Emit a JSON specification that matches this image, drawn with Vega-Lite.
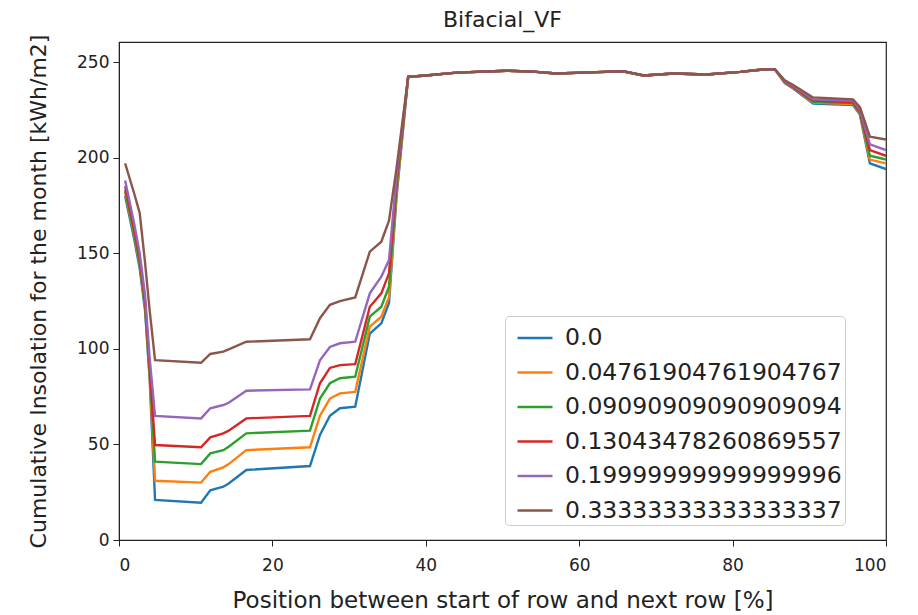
{
  "$schema": "https://vega.github.io/schema/vega-lite/v6.json",
  "width": 767,
  "height": 498,
  "autosize": {"type": "none"},
  "padding": {"left": 119, "top": 42, "right": 32, "bottom": 75},
  "background": "white",
  "config": {
    "font": "DejaVu Sans",
    "view": {"stroke": "#222", "strokeWidth": 1.2},
    "axis": {"grid": false, "domainColor": "#222", "tickColor": "#222", "labelColor": "#222", "titleColor": "#222", "labelFontSize": 17, "titleFontSize": 22, "titleFontWeight": "normal", "tickSize": 6, "labelPadding": 4}
  },
  "title": {"text": "Bifacial_VF", "fontSize": 22, "fontWeight": "normal", "color": "#222", "anchor": "middle", "offset": 2},
  "data": {"values": [
    {"x": 0.8, "a": 180, "b": 182, "c": 183, "d": 185, "e": 188, "f": 197},
    {"x": 2.0, "a": 157, "b": 159, "c": 160, "d": 162, "e": 165, "f": 181},
    {"x": 2.7, "a": 142, "b": 144, "c": 145, "d": 147, "e": 150, "f": 171},
    {"x": 3.4, "a": 120, "b": 122, "c": 123, "d": 125, "e": 128, "f": 145},
    {"x": 4.0, "a": 84, "b": 86, "c": 88, "d": 90, "e": 95, "f": 120},
    {"x": 4.7, "a": 21, "b": 31, "c": 41, "d": 49.7, "e": 64.9, "f": 94.1},
    {"x": 10.7, "a": 19.5, "b": 30, "c": 39.7, "d": 48.5, "e": 63.6, "f": 92.7},
    {"x": 11.9, "a": 26, "b": 35.7, "c": 45.3, "d": 53.7, "e": 68.9, "f": 97.3},
    {"x": 13.6, "a": 27.9, "b": 38, "c": 47, "d": 55.8, "e": 70.6, "f": 98.5},
    {"x": 14.3, "a": 29.6, "b": 39.7, "c": 48.8, "d": 57.2, "e": 71.8, "f": 99.7},
    {"x": 16.6, "a": 36.6, "b": 47, "c": 55.8, "d": 63.6, "e": 78.1, "f": 103.7},
    {"x": 24.9, "a": 38.7, "b": 48.5, "c": 57.2, "d": 64.9, "e": 78.8, "f": 105},
    {"x": 26.2, "a": 55, "b": 65, "c": 74, "d": 82, "e": 94, "f": 116},
    {"x": 27.5, "a": 65, "b": 74, "c": 82, "d": 90, "e": 101, "f": 123},
    {"x": 28.8, "a": 68.9, "b": 76.7, "c": 84.6, "d": 91.5, "e": 102.9, "f": 125},
    {"x": 30.8, "a": 69.7, "b": 77.5, "c": 85.4, "d": 92, "e": 103.7, "f": 126.9},
    {"x": 32.7, "a": 108, "b": 111.6, "c": 116.8, "d": 122, "e": 129, "f": 150.8},
    {"x": 34.2, "a": 113.3, "b": 116.8, "c": 122, "d": 129, "e": 137.7, "f": 156},
    {"x": 35.2, "a": 124, "b": 127, "c": 132.5, "d": 139.5, "e": 146.4, "f": 167},
    {"x": 36.2, "a": 180, "b": 182, "c": 185, "d": 188, "e": 191, "f": 195},
    {"x": 37.7, "a": 242.3, "b": 242.3, "c": 242.3, "d": 242.3, "e": 242.3, "f": 242.3},
    {"x": 40, "a": 243, "b": 243, "c": 243, "d": 243, "e": 243, "f": 243},
    {"x": 44, "a": 244.5, "b": 244.5, "c": 244.5, "d": 244.5, "e": 244.5, "f": 244.5},
    {"x": 50.5, "a": 245.5, "b": 245.5, "c": 245.5, "d": 245.5, "e": 245.5, "f": 245.5},
    {"x": 54, "a": 245, "b": 245, "c": 245, "d": 245, "e": 245, "f": 245},
    {"x": 57, "a": 244, "b": 244, "c": 244, "d": 244, "e": 244, "f": 244},
    {"x": 61.4, "a": 244.6, "b": 244.6, "c": 244.6, "d": 244.6, "e": 244.6, "f": 244.6},
    {"x": 65.7, "a": 245.2, "b": 245.2, "c": 245.2, "d": 245.2, "e": 245.2, "f": 245.2},
    {"x": 68.4, "a": 243, "b": 243, "c": 243, "d": 243, "e": 243, "f": 243},
    {"x": 72.3, "a": 244, "b": 244, "c": 244, "d": 244, "e": 244, "f": 244},
    {"x": 76.6, "a": 243.5, "b": 243.5, "c": 243.5, "d": 243.5, "e": 243.5, "f": 243.5},
    {"x": 81, "a": 244.9, "b": 244.9, "c": 244.9, "d": 244.9, "e": 244.9, "f": 244.9},
    {"x": 83.6, "a": 246, "b": 246, "c": 246, "d": 246, "e": 246, "f": 246},
    {"x": 85.5, "a": 246.3, "b": 246.3, "c": 246.3, "d": 246.3, "e": 246.3, "f": 246.3},
    {"x": 86.8, "a": 239, "b": 239.3, "c": 239.5, "d": 239.7, "e": 240, "f": 240.5},
    {"x": 87.9, "a": 236.2, "b": 236.5, "c": 236.8, "d": 237, "e": 237.5, "f": 238},
    {"x": 90.5, "a": 228.3, "b": 228.8, "c": 229.2, "d": 229.8, "e": 230.5, "f": 231.5},
    {"x": 95.7, "a": 227.5, "b": 228, "c": 228.5, "d": 229, "e": 229.8, "f": 230.5},
    {"x": 96.6, "a": 222.5, "b": 223, "c": 223.5, "d": 224, "e": 225, "f": 226.5},
    {"x": 97.9, "a": 197, "b": 199, "c": 201, "d": 204, "e": 207, "f": 211},
    {"x": 100, "a": 194, "b": 197, "c": 199, "d": 201, "e": 204, "f": 209.5}
  ]},
  "transform": [{"fold": ["a", "b", "c", "d", "e", "f"], "as": ["s", "y"]}],
  "mark": {"type": "line", "strokeWidth": 2.4, "clip": true},
  "encoding": {
    "x": {"field": "x", "type": "quantitative", "scale": {"domain": [0, 100], "nice": false},
      "axis": {"values": [0, 20, 40, 60, 80, 100], "title": "Position between start of row and next row [%]", "titleFontSize": 23, "labelPadding": 11, "titlePadding": 16}},
    "y": {"field": "y", "type": "quantitative", "scale": {"domain": [0, 260.5], "nice": false},
      "axis": {"values": [0, 50, 100, 150, 200, 250], "title": "Cumulative Insolation for the month [kWh/m2]", "titlePadding": 26}},
    "color": {"field": "s", "type": "nominal",
      "scale": {"domain": ["a", "b", "c", "d", "e", "f"], "range": ["#1f77b4", "#ff7f0e", "#2ca02c", "#d62728", "#9467bd", "#8c564b"]},
      "legend": {"title": null, "orient": "none", "legendX": 386, "legendY": 274,
        "labelExpr": "['0.0','0.04761904761904767','0.09090909090909094','0.13043478260869557','0.19999999999999996','0.33333333333333337'][indexof(['a','b','c','d','e','f'], datum.value)]",
        "symbolType": "stroke", "symbolSize": 1225, "symbolStrokeWidth": 2.4, "symbolOffset": 8, "labelFontSize": 23.5, "labelLimit": 500, "labelColor": "#222", "rowPadding": 3.5, "labelOffset": 11,
        "strokeColor": "#ccc", "cornerRadius": 4, "padding": 3, "fillColor": "white"}}
  }
}
